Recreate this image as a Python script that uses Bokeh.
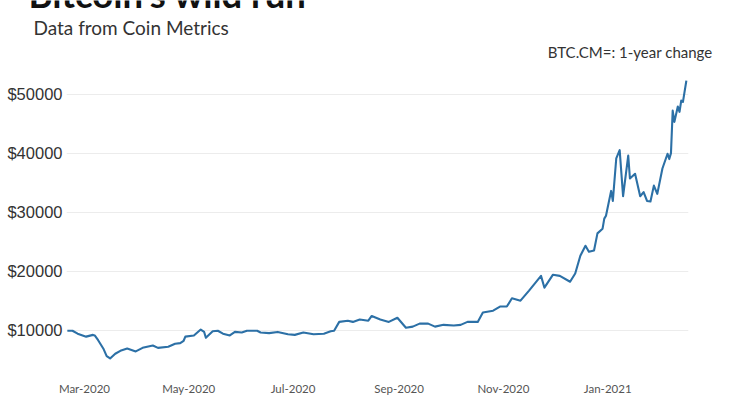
import pandas as pd
from bokeh.plotting import figure
from bokeh.models import FixedTicker, Range1d
from bokeh.core.properties import value
from bokeh.embed import file_html
from bokeh.resources import INLINE

# ---- data ----
dates = [
    "2020-02-20", "2020-02-23", "2020-02-26", "2020-03-02", "2020-03-06", "2020-03-07",
    "2020-03-09", "2020-03-12", "2020-03-14", "2020-03-16", "2020-03-19", "2020-03-22",
    "2020-03-26", "2020-03-31", "2020-04-04", "2020-04-10", "2020-04-13", "2020-04-19",
    "2020-04-23", "2020-04-26", "2020-04-28", "2020-04-29", "2020-05-04", "2020-05-08",
    "2020-05-10", "2020-05-11", "2020-05-15", "2020-05-18", "2020-05-21", "2020-05-25",
    "2020-05-28", "2020-06-01", "2020-06-04", "2020-06-10", "2020-06-12", "2020-06-17",
    "2020-06-22", "2020-06-28", "2020-07-02", "2020-07-07", "2020-07-13", "2020-07-19",
    "2020-07-23", "2020-07-25", "2020-07-28", "2020-08-02", "2020-08-05", "2020-08-09",
    "2020-08-14", "2020-08-16", "2020-08-21", "2020-08-26", "2020-08-31", "2020-09-05",
    "2020-09-09", "2020-09-13", "2020-09-18", "2020-09-22", "2020-09-27", "2020-10-03",
    "2020-10-07", "2020-10-11", "2020-10-17", "2020-10-20", "2020-10-26", "2020-10-30",
    "2020-11-03", "2020-11-06", "2020-11-11", "2020-11-16", "2020-11-23", "2020-11-25",
    "2020-11-30", "2020-12-04", "2020-12-10", "2020-12-13", "2020-12-16", "2020-12-19",
    "2020-12-21", "2020-12-24", "2020-12-26", "2020-12-29", "2020-12-30", "2020-12-31",
    "2021-01-03", "2021-01-04", "2021-01-06", "2021-01-08", "2021-01-10", "2021-01-13",
    "2021-01-14", "2021-01-17", "2021-01-20", "2021-01-22", "2021-01-24", "2021-01-26",
    "2021-01-28", "2021-01-30", "2021-02-02", "2021-02-05", "2021-02-06", "2021-02-07",
    "2021-02-08", "2021-02-09", "2021-02-11", "2021-02-12", "2021-02-13", "2021-02-14",
    "2021-02-16",
]
prices = [
    9900, 9900, 9400, 8900, 9200, 9100,
    8300, 6900, 5600, 5200, 6000, 6500,
    6900, 6400, 7000, 7400, 7000, 7200,
    7700, 7800, 8200, 8900, 9100, 10100,
    9700, 8700, 9800, 9900, 9400, 9100,
    9700, 9600, 9900, 9900, 9600, 9500,
    9700, 9300, 9200, 9600, 9300, 9400,
    9800, 9900, 11400, 11600, 11400, 11800,
    11600, 12400, 11800, 11400, 12100, 10400,
    10600, 11100, 11100, 10600, 10900, 10800,
    10900, 11400, 11400, 13000, 13300, 14000,
    14000, 15400, 15000, 16700, 19200, 17200,
    19400, 19200, 18200, 19600, 22600, 24300,
    23300, 23500, 26400, 27200, 28900, 29400,
    33600, 31900, 39100, 40500, 32700, 39600,
    35700, 36500, 32700, 33400, 31900, 31800,
    34500, 33100, 37400, 39900, 39000, 40000,
    47200, 45300, 47900, 47000, 48900, 48700,
    52300,
]
y_ticks = [10000, 20000, 30000, 40000, 50000]
y_tick_labels = ["$10000", "$20000", "$30000", "$40000", "$50000"]
x_tick_dates = ["2020-03-01", "2020-05-01", "2020-07-01", "2020-09-01", "2020-11-01", "2021-01-01"]
x_tick_labels = ["Mar-2020", "May-2020", "Jul-2020", "Sep-2020", "Nov-2020", "Jan-2021"]

title_text = "Bitcoin's wild run"
subtitle_text = "Data from Coin Metrics"
note_text = "BTC.CM=: 1-year change"

W = 737
HEAD_H = 70

# ---- header (separate root, pixel-like coordinates, y grows downward) ----
head = figure(width=W, height=HEAD_H, output_backend="svg", toolbar_location=None,
              x_range=Range1d(0, W), y_range=Range1d(HEAD_H, 0),
              min_border=0, min_border_left=0, min_border_right=0,
              min_border_top=0, min_border_bottom=0,
              x_axis_location=None, y_axis_location=None)
head.outline_line_color = None
head.xgrid.visible = False
head.ygrid.visible = False
head.text(x=[28], y=[15], text=[title_text], text_font=value("Lato"),
          text_font_style="bold", text_font_size="36.5px", text_color="#111111",
          text_baseline="bottom", text_align="left")
head.text(x=[33], y=[26.5], text=[subtitle_text], text_font=value("Lato"),
          text_font_size="19px", text_color="#333333",
          text_baseline="middle", text_align="left")
head.text(x=[712], y=[51], text=[note_text], text_font=value("Lato"),
          text_font_size="15px", text_color="#333333",
          text_baseline="middle", text_align="right")

# ---- main chart ----
FW, FH = 622, 295
LEFT = 66
x = pd.to_datetime(dates)
p = figure(
    frame_width=FW, frame_height=FH, output_backend="svg", toolbar_location=None,
    x_axis_type="datetime",
    x_range=Range1d(pd.Timestamp("2020-02-19 12:00").to_pydatetime(),
                    pd.Timestamp("2021-02-17 06:00").to_pydatetime()),
    y_range=Range1d(3500, 53500),
    min_border_left=LEFT, min_border_right=W - LEFT - FW, min_border_top=73 - HEAD_H,
    min_border_bottom=27,
)
p.outline_line_color = None
p.background_fill_color = "white"
p.border_fill_color = "white"

p.line(x, prices, line_color="#2c70a6", line_width=2.1, line_join="round")

# y axis
p.yaxis.ticker = FixedTicker(ticks=y_ticks)
p.yaxis.major_label_overrides = {t: l for t, l in zip(y_ticks, y_tick_labels)}
p.yaxis.axis_line_color = None
p.yaxis.major_tick_line_color = None
p.yaxis.minor_tick_line_color = None
p.yaxis.major_tick_out = 0
p.yaxis.major_tick_in = 0
p.yaxis.minor_tick_out = 0
p.yaxis.major_label_standoff = 4
p.yaxis.major_label_text_font = "Liberation Sans"
p.yaxis.major_label_text_font_size = "16.5px"
p.yaxis.major_label_text_color = "#333333"

# x axis
x_tick_ms = [pd.Timestamp(d).value // 10**6 for d in x_tick_dates]
p.xaxis.ticker = FixedTicker(ticks=x_tick_ms)
p.xaxis.major_label_overrides = {t: l for t, l in zip(x_tick_ms, x_tick_labels)}
p.xaxis.axis_line_color = None
p.xaxis.major_tick_line_color = None
p.xaxis.minor_tick_line_color = None
p.xaxis.major_tick_out = 0
p.xaxis.major_tick_in = 0
p.xaxis.minor_tick_out = 0
p.xaxis.major_label_standoff = 13
p.xaxis.major_label_text_font = "Lato"
p.xaxis.major_label_text_font_size = "11.5px"
p.xaxis.major_label_text_color = "#555555"

p.xgrid.grid_line_color = None
p.ygrid.grid_line_color = "#ececec"
p.ygrid.grid_line_width = 1

open("out.html", "w").write(file_html([head, p], INLINE))
